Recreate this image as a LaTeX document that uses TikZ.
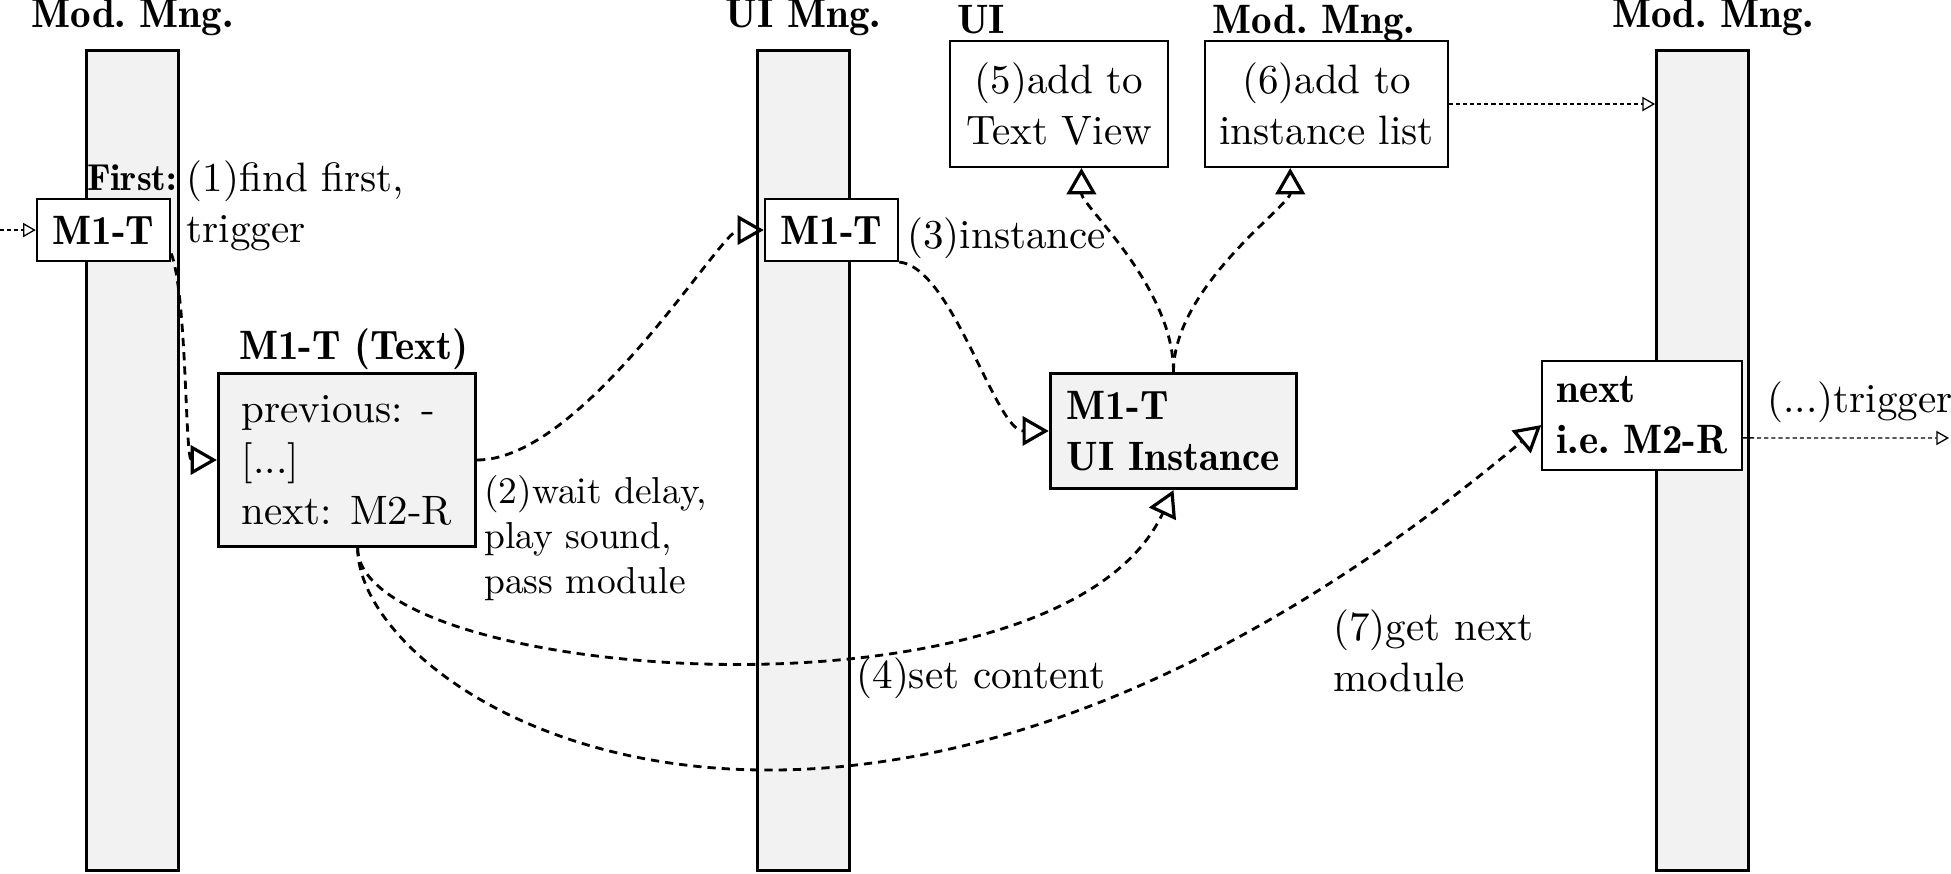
\documentclass[tikz,border=0pt,11pt]{standalone}
\usetikzlibrary{arrows.meta}
\definecolor{lanegray}{HTML}{F2F2F2}
\newcommand{\demibold}{\fontseries{b}\selectfont}

\begin{document}
\begin{tikzpicture}[
    lane/.style={draw, line width=0.8pt, fill=lanegray, minimum width=0.86cm, minimum height=7.69cm},
    heading/.style={font=\demibold, inner sep=0pt},
    modbox/.style={draw, line width=0.55pt, fill=white, font=\demibold, minimum width=1.25cm, minimum height=0.58cm},
    infobox/.style={draw, line width=0.55pt, fill=white, align=center, minimum height=1.18cm},
    objbox/.style={draw, line width=0.8pt, fill=lanegray, align=left},
    note/.style={inner sep=0pt, align=left},
    call/.style={line width=0.75pt, dash pattern=on 2.2pt off 1.6pt, -{Triangle[open,length=7pt,width=7.8pt,line width=0.85pt]}},
    flow/.style={line width=0.35pt, dash pattern=on 1.1pt off 0.8pt, -{Triangle[open,length=3.4pt,width=3.8pt]}}
]
\useasboundingbox (0,0) rectangle (18.285,-8.182);

% Lebenslinien
\node[lane] (lane1) at (1.242,-4.316) {};
\node[lane] (lane2) at (7.530,-4.316) {};
\node[lane] (lane3) at (15.956,-4.316) {};
\node[heading, anchor=base] (title1) at ([yshift=0.2cm]lane1.north) {Mod.\ Mng.};
\node[heading, anchor=base] (title2) at ([yshift=0.2cm]lane2.north) {UI Mng.};
\node[heading, anchor=base] (title3) at ([xshift=0.1cm,yshift=0.2cm]lane3.north) {Mod.\ Mng.};

% Module und Instanzen
\node[modbox] (first) at (0.970,-2.156) {M1-T};
\node[modbox] (uimod) at (7.793,-2.156) {M1-T};
\node[objbox, minimum width=2.41cm, minimum height=1.62cm] (textmod) at (3.252,-4.311) {previous: -\\{[...]}\\next: M2-R};
\node[objbox, font=\demibold, minimum width=2.31cm, minimum height=1.08cm] (uiinst) at (10.998,-4.039) {M1-T\\UI Instance};
\node[infobox, minimum width=2.04cm] (textview) at (9.925,-0.975) {(5)add to\\Text View};
\node[infobox, minimum width=2.24cm] (instlist) at (12.432,-0.975) {(6)add to\\instance list};
\node[modbox, align=left, minimum width=1.87cm, minimum height=1.02cm] (nextmod) at (15.389,-3.894) {next\\i.e.\ M2-R};

% Beschriftungen
\node[heading, font=\small\demibold, anchor=base east] (firstlbl) at ([xshift=0.06cm,yshift=0.075cm]first.north east) {First:};
\node[heading, anchor=base west] (uilbl) at ([xshift=0.07cm,yshift=0.065cm]textview.north west) {UI};
\node[heading, anchor=base west] (modlbl) at ([xshift=0.07cm,yshift=0.065cm]instlist.north west) {Mod.\ Mng.};
\node[heading, anchor=base west] (textlbl) at ([xshift=0.2cm,yshift=0.12cm]textmod.north west) {M1-T (Text)};
\node[note, anchor=north west] (step1) at ([xshift=0.14cm,yshift=0.36cm]first.north east) {(1)find first,\\trigger};
\node[note, font=\small, anchor=north west] (step2) at ([xshift=0.06cm,yshift=-0.14cm]textmod.east) {(2)wait delay,\\play sound,\\pass module};
\node[note, anchor=base west] (step3) at ([xshift=0.07cm,yshift=-0.17cm]uimod.east) {(3)instance};
\node[note, anchor=base west] (step4) at (8.02,-6.45) {(4)set content};
\node[note, anchor=north west] (step7) at (12.49,-5.71) {(7)get next\\module};
\node[note, anchor=base west] (trigger) at ([xshift=0.225cm,yshift=0.03cm]nextmod.east) {(...)trigger};

% Verbindungen
\coordinate (entry) at (0,-2.156);
\coordinate (exit) at (18.266,-4.105);
\draw[flow] (entry) -- (first.west);
\draw[call] ([yshift=0.08cm]first.south east) .. controls +(0.15,-0.4) and +(-0.3,0) .. (textmod.west);
\draw[call] (textmod.east) .. controls +(1,0) and +(-0.4,0) .. (uimod.west);
\draw[call] (uimod.south east) .. controls +(0.5,-0.05) and +(-0.5,0) .. (uiinst.west);
\draw[call] (uiinst.north) .. controls +(0,0.8) and +(0,-0.35) .. ([xshift=0.21cm]textview.south);
\draw[call] (uiinst.north) .. controls +(0,0.8) and +(0,-0.35) .. ([xshift=-0.34cm]instlist.south);
\draw[call] ([xshift=0.1cm]textmod.south) .. controls +(0,-1.25) and +(-115:2.55) .. (uiinst.south);
\draw[call] ([xshift=0.1cm]textmod.south) .. controls +(0,-1.45) and +(-140:8.5) .. ([yshift=-0.09cm]nextmod.west);
\draw[flow] (instlist.east) -- (instlist.east -| lane3.west);
\draw[flow] ([yshift=-0.21cm]nextmod.east) -- (exit);
\end{tikzpicture}
\end{document}
